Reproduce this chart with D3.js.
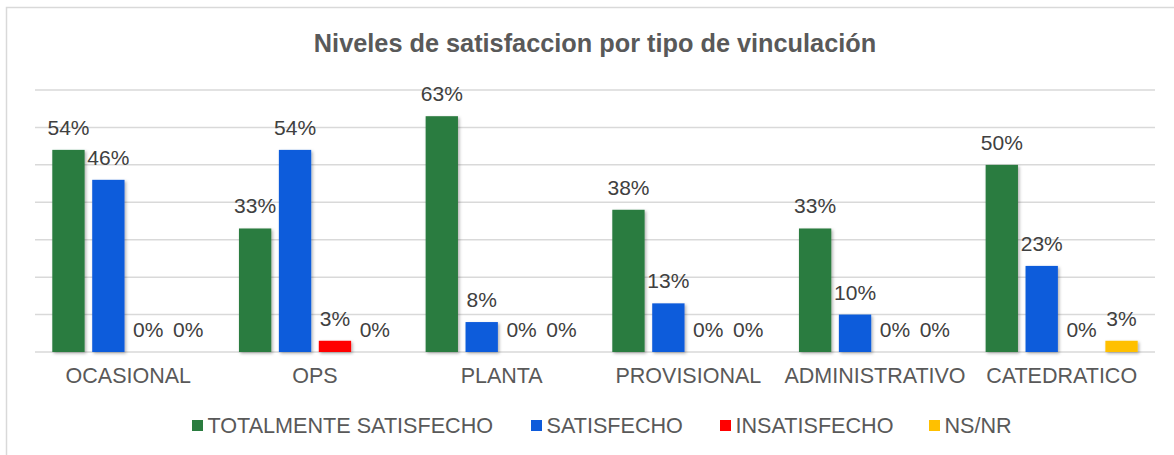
<!DOCTYPE html>
<html>
<head>
<meta charset="utf-8">
<script src="https://cdn.jsdelivr.net/npm/d3@7"></script>
<style>
  body { margin: 0; background: #fff; }
  text { font-family: Arial, "Liberation Sans", sans-serif; }
</style>
</head>
<body>
<svg id="chart" width="1174" height="455"></svg>
<script>
const categories = ["OCASIONAL", "OPS", "PLANTA", "PROVISIONAL", "ADMINISTRATIVO", "CATEDRATICO"];
const seriesNames = ["TOTALMENTE SATISFECHO", "SATISFECHO", "INSATISFECHO", "NS/NR"];
const totalmente = [54, 33, 63, 38, 33, 50];
const satisfecho = [46, 54, 8, 13, 10, 23];
const insatisfecho = [0, 3, 0, 0, 0, 0];
const nsnr = [0, 0, 0, 0, 0, 3];
const colors = ["#2a7c3f", "#0e5bdb", "#ff0000", "#ffc000"];

const seriesValues = [totalmente, satisfecho, insatisfecho, nsnr];

const svg = d3.select("#chart");

// drop shadow for bars
const defs = svg.append("defs");
defs.append("filter")
  .attr("id", "shadow")
  .attr("x", "-20%").attr("y", "-20%")
  .attr("width", "150%").attr("height", "150%")
  .append("feDropShadow")
  .attr("dx", 1.5).attr("dy", 1.5)
  .attr("stdDeviation", 1.5)
  .attr("flood-color", "#000")
  .attr("flood-opacity", 0.3);

// frame
svg.append("rect")
  .attr("x", 6.5).attr("y", 7.5)
  .attr("width", 1200).attr("height", 500)
  .attr("fill", "#fff")
  .attr("stroke", "#d9d9d9")
  .attr("stroke-width", 1.5);

const x0 = d3.scaleBand().domain(categories).range([35, 1155]);
const x1 = d3.scaleBand()
  .domain(seriesNames)
  .range([17.3, x0.bandwidth() - 17.3])
  .paddingInner(0.19);
const y = d3.scaleLinear().domain([0, 70]).range([352, 90]);

// gridlines
svg.append("g")
  .selectAll("line")
  .data(d3.range(0, 71, 10))
  .enter()
  .append("line")
  .attr("x1", 35)
  .attr("x2", 1155)
  .attr("y1", function (d) { return y(d); })
  .attr("y2", function (d) { return y(d); })
  .attr("stroke", "#d9d9d9")
  .attr("stroke-width", 1.5);

// title
svg.append("text")
  .attr("x", 595)
  .attr("y", 52)
  .attr("text-anchor", "middle")
  .attr("font-size", 25.3)
  .attr("font-weight", "bold")
  .attr("fill", "#595959")
  .text("Niveles de satisfaccion por tipo de vinculación");

// bars + labels
const rows = [];
categories.forEach(function (c, i) {
  seriesNames.forEach(function (s, j) {
    rows.push({ cat: c, series: s, value: seriesValues[j][i], color: colors[j] });
  });
});

const groups = svg.append("g")
  .selectAll("g")
  .data(rows)
  .enter()
  .append("g")
  .attr("transform", function (d) {
    return "translate(" + (x0(d.cat) + x1(d.series)) + ",0)";
  });

groups.filter(function (d) { return d.value > 0; })
  .append("rect")
  .attr("x", 0)
  .attr("y", function (d) { return y(d.value); })
  .attr("width", x1.bandwidth())
  .attr("height", function (d) { return y(0) - y(d.value); })
  .attr("fill", function (d) { return d.color; })
  .attr("filter", "url(#shadow)");

groups.append("text")
  .attr("x", x1.bandwidth() / 2)
  .attr("y", function (d) { return y(d.value) - 15; })
  .attr("text-anchor", "middle")
  .attr("font-size", 21)
  .attr("fill", "#404040")
  .text(function (d) { return d.value + "%"; });

// category axis
const xAxis = svg.append("g")
  .attr("transform", "translate(0,352)")
  .call(d3.axisBottom(x0).tickSize(0).tickPadding(0));
xAxis.select(".domain").remove();
xAxis.selectAll("text")
  .attr("y", 31)
  .attr("dy", 0)
  .attr("font-size", 21.5)
  .attr("font-family", "Arial, 'Liberation Sans', sans-serif")
  .attr("fill", "#595959");

// legend
const legendX = [192, 531, 720, 929];
const legend = svg.append("g")
  .selectAll("g")
  .data(seriesNames)
  .enter()
  .append("g")
  .attr("transform", function (d, i) { return "translate(" + legendX[i] + ",420)"; });

legend.append("rect")
  .attr("width", 11)
  .attr("height", 11)
  .attr("fill", function (d, i) { return colors[i]; });

legend.append("text")
  .attr("x", 15.5)
  .attr("y", 12.5)
  .attr("font-size", 21.6)
  .attr("fill", "#595959")
  .text(function (d) { return d; });
</script>
</body>
</html>
